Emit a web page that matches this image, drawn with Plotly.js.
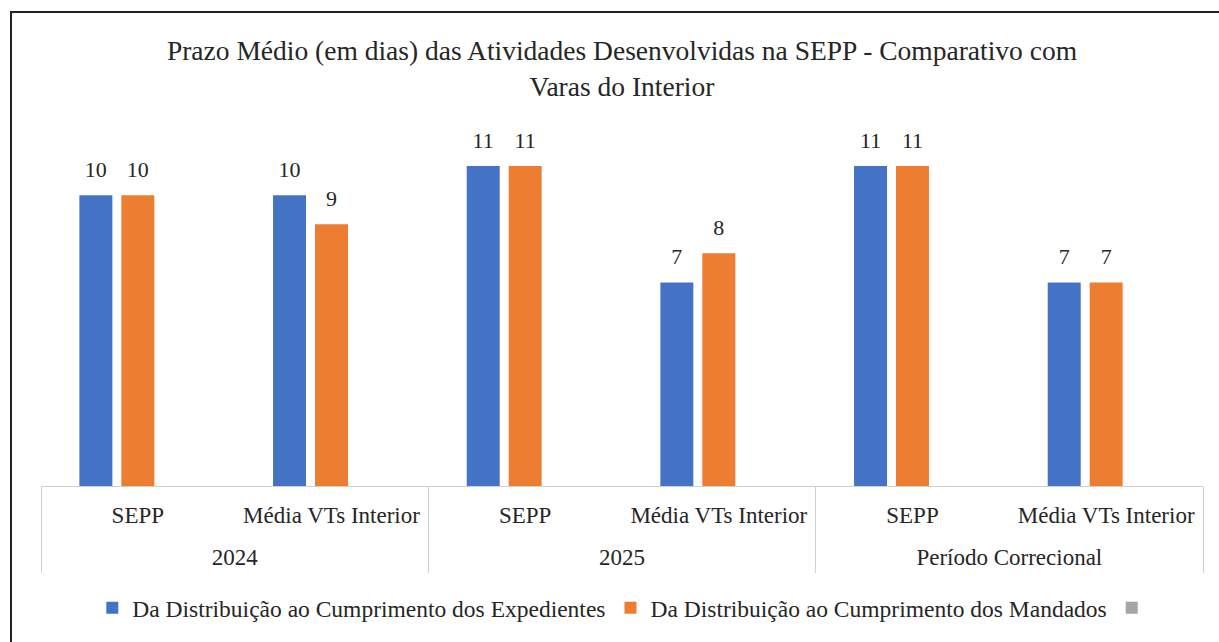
<!DOCTYPE html>
<html>
<head>
<meta charset="utf-8">
<script src="https://cdn.plot.ly/plotly-3.0.1.min.js"></script>
<style>
  html, body { margin: 0; padding: 0; background: #fff; overflow: hidden; }
  #chart { width: 1219px; height: 642px; }
  #frame { position: absolute; left: 10px; top: 11px; width: 1400px; height: 800px;
           border-left: 2px solid #222; border-top: 2px solid #222; pointer-events: none; }
</style>
</head>
<body>
<div id="chart"></div>
<div id="frame"></div>
<script>
// Data
const groups = ["2024", "2024", "2025", "2025", "Período Correcional", "Período Correcional"];
const subcats = ["SEPP", "Média VTs Interior", "SEPP", "Média VTs Interior", "SEPP", "Média VTs Interior"];
const seriesNames = ["Da Distribuição ao Cumprimento dos Expedientes", "Da Distribuição ao Cumprimento dos Mandados", " "];
const expedientes = [10, 10, 11, 7, 11, 7];
const mandados = [10, 9, 11, 8, 11, 7];
const terceira = [null, null, null, null, null, null];
const colors = ["#4472C4", "#ED7D31", "#A5A5A5"];

const font = "Liberation Serif";
const textColor = "#262626";

// category positions derived from the arrays
const idx = subcats.map((_, i) => i);
const groupNames = [...new Set(groups)];
const groupCenters = groupNames.map(g => {
  const ids = idx.filter(i => groups[i] === g);
  return (ids[0] + ids[ids.length - 1]) / 2;
});
const boundaries = [-0.5].concat(groupNames.map(g => {
  const ids = idx.filter(i => groups[i] === g);
  return ids[ids.length - 1] + 0.5;
}));
const xRange = [-0.5, idx.length - 0.5];

function barTrace(name, y, color) {
  return {
    type: "bar", name: name, x: idx, y: y,
    marker: { color: color },
    texttemplate: "<span style='font-size:22px'>%{y}</span><br><span style='color:rgba(0,0,0,0)'>.</span>",
    textposition: "outside", cliponaxis: false,
    textfont: { family: font, size: 10, color: textColor },
    hoverinfo: "y+name"
  };
}

const data = [
  barTrace(seriesNames[0], expedientes, colors[0]),
  barTrace(seriesNames[1], mandados, colors[1]),
  barTrace(seriesNames[2], terceira, colors[2]),
  { type: "scatter", mode: "markers", x: groupCenters, y: groupCenters.map(() => null),
    xaxis: "x2", yaxis: "y", showlegend: false, hoverinfo: "skip" },
  { type: "scatter", mode: "markers", x: boundaries, y: boundaries.map(() => null),
    xaxis: "x3", yaxis: "y", showlegend: false, hoverinfo: "skip" }
];

const layout = {
  width: 1219, height: 642,
  margin: { l: 41, r: 16, t: 137, b: 156 },
  paper_bgcolor: "#fff", plot_bgcolor: "#fff",
  font: { family: font, size: 23, color: textColor },
  title: {
    text: "Prazo Médio (em dias) das Atividades Desenvolvidas na SEPP - Comparativo com<br>Varas do Interior",
    font: { family: font, size: 27.5, color: textColor },
    x: 0.5, xanchor: "center", xref: "paper",
    y: 0.9065, yanchor: "middle", yref: "container"
  },
  barmode: "group", bargap: 0.35, bargroupgap: 0.214,
  xaxis: {
    type: "linear", range: xRange, anchor: "y",
    tickmode: "array", tickvals: idx, ticktext: subcats,
    showline: true, linecolor: "#d0d0d0", linewidth: 1,
    tickfont: { family: font, size: 23, color: textColor },
    ticks: "", ticklabelstandoff: 8, showgrid: false, zeroline: false
  },
  xaxis2: {
    type: "linear", range: xRange, overlaying: "x", anchor: "y", side: "bottom",
    tickmode: "array", tickvals: groupCenters, ticktext: groupNames,
    tickfont: { family: font, size: 23, color: textColor },
    ticks: "", ticklabelstandoff: 55, showline: false, showgrid: false, zeroline: false
  },
  xaxis3: {
    type: "linear", range: xRange, overlaying: "x", anchor: "y", side: "bottom",
    tickmode: "array", tickvals: boundaries, showticklabels: false,
    ticks: "outside", ticklen: 86, tickwidth: 1, tickcolor: "#d0d0d0",
    showline: false, showgrid: false, zeroline: false
  },
  yaxis: {
    range: [0, 12], visible: false, showgrid: false, zeroline: false
  },
  legend: {
    orientation: "h", xref: "paper", yref: "container",
    x: 0.505, xanchor: "center", y: 0.053, yanchor: "middle",
    font: { family: font, size: 23.5, color: textColor },
    itemwidth: 30, traceorder: "normal"
  },
  showlegend: true
};

Plotly.newPlot("chart", data, layout, { displayModeBar: false, staticPlot: true });
</script>
</body>
</html>
